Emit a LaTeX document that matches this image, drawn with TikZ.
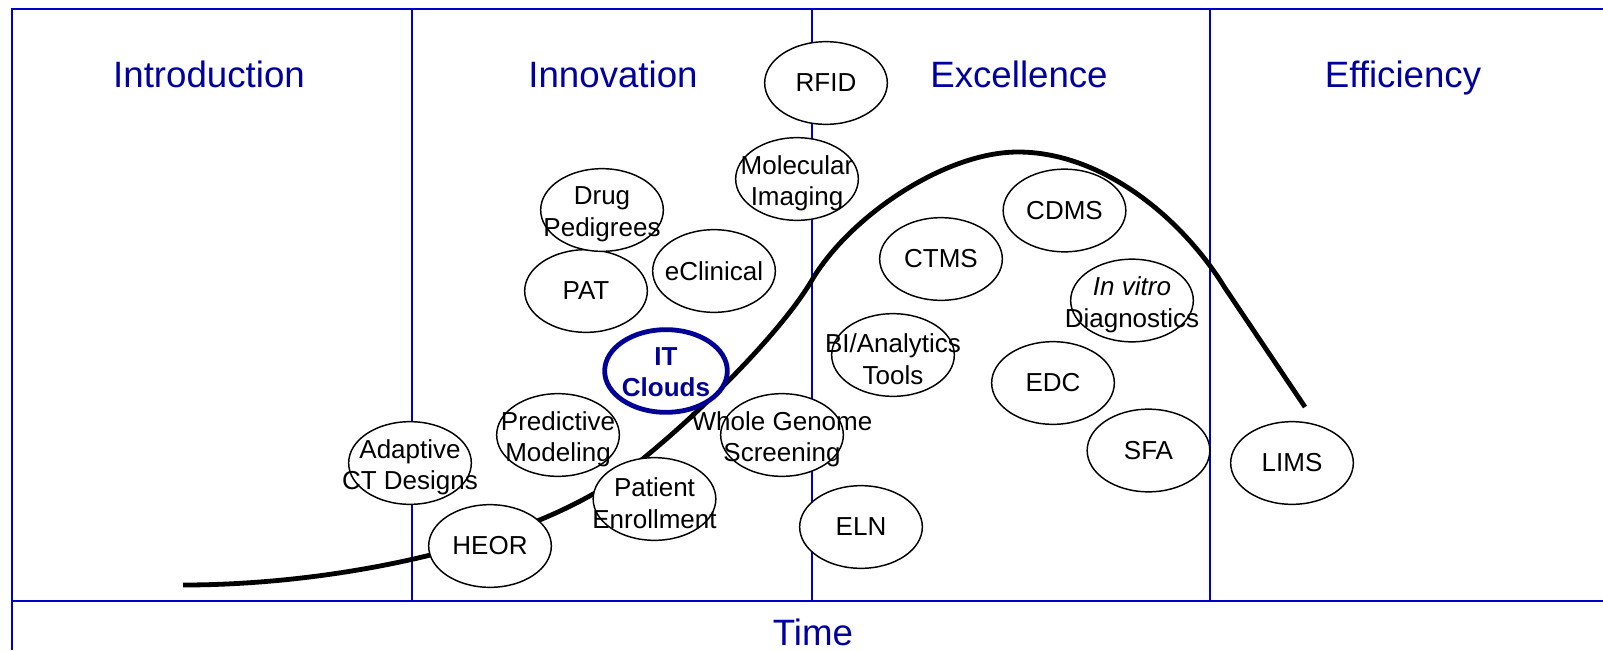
\documentclass[tikz,border=0pt]{standalone}
\usepackage{fontspec}
\setmainfont{Liberation Sans}
\usetikzlibrary{shapes.geometric}
\definecolor{gridblue}{RGB}{0,0,204}
\definecolor{phaseblue}{RGB}{0,0,160}
\definecolor{ringblue}{RGB}{0,0,150}
\tikzstyle {topic} = [ellipse, draw, fill=white, line width=1.1pt, minimum width=92pt, minimum height=62pt, inner sep=0pt]
\tikzset{topic text/.style = {align=center, font=\fontsize{19.5}{23.5}\selectfont},
         two lines/.style = {yshift=-3.2pt},
         hot topic/.style = {draw=ringblue, line width=3.6pt},
         phase/.style = {text=phaseblue, anchor=base, font=\fontsize{27.5}{33}\selectfont},
         grid line/.style = {gridblue, line width=1.5pt},
         hype/.style = {line width=3.6pt}}

\begin{document}
\begin{tikzpicture}[x=0.75pt, y=-0.75pt]
            \clip (0,0) rectangle (1603,650);
            % columns and time axis
            \draw[grid line] (11.5,650) -- (11.5,9) -- (1620,9);
            \foreach \x in {412,812,1210}
                \draw[grid line] (\x,9) -- (\x,601);
            \draw[grid line] (11.5,601) -- (1620,601);
            \node[phase] (intro) at (209,87) {Introduction};
            \node[phase] (innov) at (613,87) {Innovation};
            \node[phase] (excel) at (1019,87) {Excellence};
            \node[phase] (effic) at (1403,87) {Efficiency};
            \node[phase] (time) at (813,645) {Time};
            % the curve
            \draw[hype] (183,585) .. controls (330,585) and (500,550) .. (600,490)
                .. controls (650,460) and (772,348) .. (812,280)
                .. controls (850,216) and (945,152) .. (1018,152)
                .. controls (1100,152) and (1180,215) .. (1225,288) -- (1305,407);
            % one-line topics
            \foreach \n/\x/\y/\t in {rfid/826/83/RFID, pat/586/291/PAT, ecl/714/271/eClinical,
                    heor/490/546/HEOR, eln/861/527/ELN, ctms/941/259/CTMS, cdms/1064.5/210.5/CDMS,
                    edc/1053/383/EDC, sfa/1148.5/450.5/SFA, lims/1292/463/LIMS} {
                \node[topic] (\n) at (\x,\y) {};
                \node[topic text] (\n-t) at (\n) {\t};
            }
            % two-line topics
            \foreach \n/\x/\y/\t in {mi/797/179/{Molecular\\Imaging},
                    dp/602/210/{Drug\\Pedigrees}, pm/558/435/{Predictive\\Modeling},
                    act/410/463/{Adaptive\\CT Designs}, pe/654.5/499/{Patient\\Enrollment},
                    wgs/782/435/{Whole Genome\\Screening}, bi/893/355/{BI/Analytics\\Tools},
                    ivd/1132/300.5/{\textit{In vitro}\\Diagnostics}} {
                \node[topic] (\n) at (\x,\y) {};
                \node[topic text, two lines] (\n-t) at (\n) {\t};
            }
            \node[topic, hot topic] (itc) at (666,371) {};
            \node[topic text, yshift=-0.8pt, text=ringblue, font=\fontsize{19.5}{23.5}\selectfont\bfseries] (itc-t) at (itc) {IT\\Clouds};
        \end{tikzpicture}
\end{document}
